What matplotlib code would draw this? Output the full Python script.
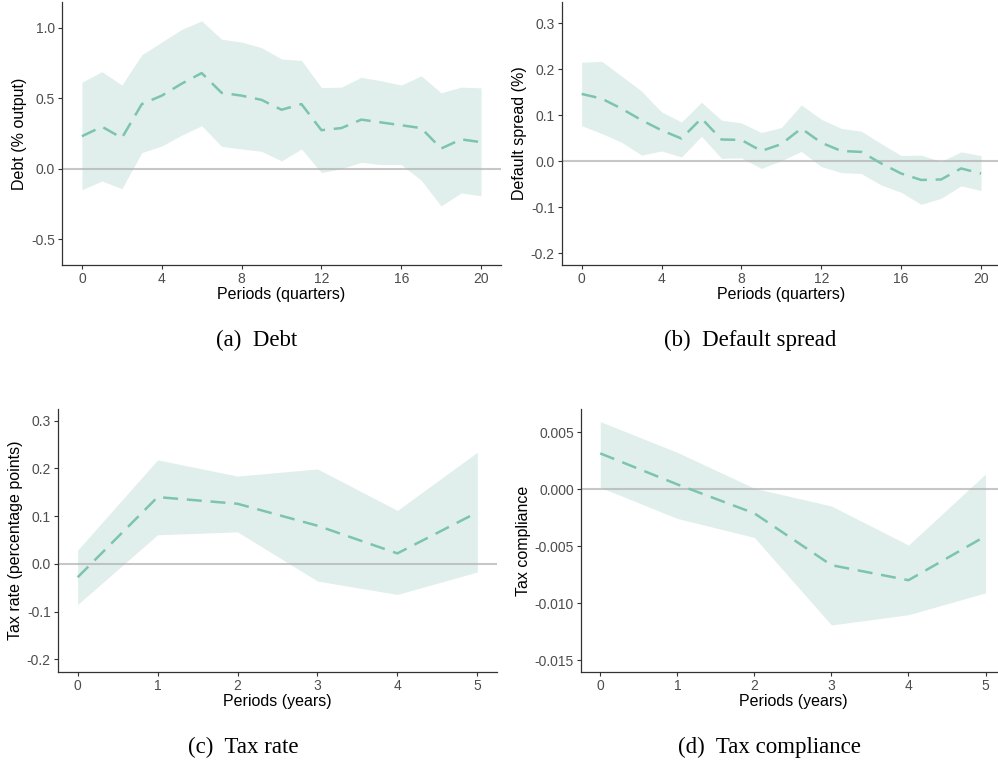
import numpy as np
import matplotlib.pyplot as plt

# impulse responses
quarters = np.arange(0, 21)
debt = [0.232, 0.30, 0.22, 0.46, 0.52, 0.605, 0.68, 0.54, 0.52, 0.49, 0.42,
        0.46, 0.275, 0.29, 0.35, 0.33, 0.31, 0.29, 0.145, 0.21, 0.19]
debt_hi = [0.615, 0.69, 0.595, 0.81, 0.90, 0.99, 1.05, 0.92, 0.90, 0.86, 0.78,
           0.77, 0.577, 0.58, 0.65, 0.625, 0.595, 0.66, 0.54, 0.58, 0.575]
debt_lo = [-0.147, -0.085, -0.14, 0.116, 0.163, 0.24, 0.307, 0.16, 0.142, 0.125, 0.057,
           0.142, -0.026, 0.002, 0.047, 0.031, 0.031, -0.08, -0.262, -0.17, -0.19]

spread = [0.146, 0.136, 0.114, 0.089, 0.067, 0.049, 0.093, 0.047, 0.046, 0.022, 0.037,
          0.071, 0.040, 0.022, 0.020, -0.005, -0.027, -0.041, -0.040, -0.016, -0.027]
spread_hi = [0.215, 0.217, 0.185, 0.152, 0.107, 0.085, 0.128, 0.089, 0.083, 0.062, 0.073,
             0.122, 0.091, 0.071, 0.065, 0.038, 0.012, 0.013, -0.001, 0.020, 0.012]
spread_lo = [0.077, 0.060, 0.041, 0.013, 0.022, 0.009, 0.054, 0.006, 0.007, -0.016, 0.001,
             0.021, -0.012, -0.025, -0.027, -0.052, -0.068, -0.094, -0.081, -0.054, -0.064]

years = np.arange(0, 6)
taxrate = [-0.028, 0.140, 0.126, 0.080, 0.022, 0.108]
taxrate_hi = [0.029, 0.218, 0.184, 0.199, 0.112, 0.234]
taxrate_lo = [-0.085, 0.061, 0.067, -0.036, -0.064, -0.017]

compliance = [0.00316, 0.00044, -0.0021, -0.00665, -0.00797, -0.0041]
compliance_hi = [0.00595, 0.00325, 0.0001, -0.00146, -0.00489, 0.00135]
compliance_lo = [0.00018, -0.00255, -0.00422, -0.0119, -0.0110, -0.00908]

W, H = 998, 763
band_col = '#e0efeb'
line_col = '#7cc4ad'

plt.rcParams['font.family'] = ['Liberation Sans', 'DejaVu Sans']
fig = plt.figure(figsize=(W / 100, H / 100), dpi=100)


def make_ax(left, right, top, bottom):
    return fig.add_axes([left / W, 1 - bottom / H, (right - left) / W, (bottom - top) / H])


def panel(ax, x, y, lo, hi, xlim, ylim, xticks, yticks, ylabels, xlabel, ylabel):
    ax.fill_between(x, lo, hi, color=band_col, lw=0)
    ax.axhline(0, color='#b0b0b0', lw=1.5, alpha=0.7)
    ax.plot(x, y, color=line_col, lw=1.8, dashes=(6, 3.5))
    ax.set_xlim(*xlim)
    ax.set_ylim(*ylim)
    ax.set_xticks(xticks)
    ax.set_yticks(yticks)
    ax.set_yticklabels(ylabels)
    ax.set_xlabel(xlabel, fontsize=11.5, labelpad=1)
    ax.set_ylabel(ylabel, fontsize=11.5, labelpad=3)
    for s in ['top', 'right']:
        ax.spines[s].set_visible(False)
    for s in ['left', 'bottom']:
        ax.spines[s].set_color('#333333')
        ax.spines[s].set_linewidth(0.9)
    ax.tick_params(length=3, width=0.8, color='#333333', labelcolor='#4d4d4d',
                   labelsize=10, pad=2)
    ax.patch.set_alpha(0)


ax1 = make_ax(62, 501, 2, 265)
panel(ax1, quarters, debt, debt_lo, debt_hi, (-1, 21), (-0.681, 1.184),
      [0, 4, 8, 12, 16, 20], [-0.5, 0, 0.5, 1.0], ['-0.5', '0.0', '0.5', '1.0'],
      'Periods (quarters)', 'Debt (% output)')

ax2 = make_ax(561.7, 1001, 2, 265)
panel(ax2, quarters, spread, spread_lo, spread_hi, (-1, 21), (-0.226, 0.346),
      [0, 4, 8, 12, 16, 20], [-0.2, -0.1, 0, 0.1, 0.2, 0.3],
      ['-0.2', '-0.1', '0.0', '0.1', '0.2', '0.3'],
      'Periods (quarters)', 'Default spread (%)')

ax3 = make_ax(57.7, 497.3, 409.3, 671.7)
panel(ax3, years, taxrate, taxrate_lo, taxrate_hi, (-0.25, 5.25), (-0.226, 0.324),
      years, [-0.2, -0.1, 0, 0.1, 0.2, 0.3],
      ['-0.2', '-0.1', '0.0', '0.1', '0.2', '0.3'],
      'Periods (years)', 'Tax rate (percentage points)')

ax4 = make_ax(581, 1004.8, 409.3, 671.7)
panel(ax4, years, compliance, compliance_lo, compliance_hi, (-0.25, 5.25), (-0.0160, 0.00703),
      years, [-0.015, -0.010, -0.005, 0, 0.005],
      ['-0.015', '-0.010', '-0.005', '0.000', '0.005'],
      'Periods (years)', 'Tax compliance')

cap = dict(fontsize=16.5, family=['Liberation Serif', 'DejaVu Serif'], ha='center', va='center')
fig.text(257 / W, 1 - 340 / H, '(a)  Debt', **cap)
fig.text(750 / W, 1 - 340 / H, '(b)  Default spread', **cap)
fig.text(243 / W, 1 - 747 / H, '(c)  Tax rate', **cap)
fig.text(769 / W, 1 - 747 / H, '(d)  Tax compliance', **cap)

fig.savefig('out.png', dpi=100)
